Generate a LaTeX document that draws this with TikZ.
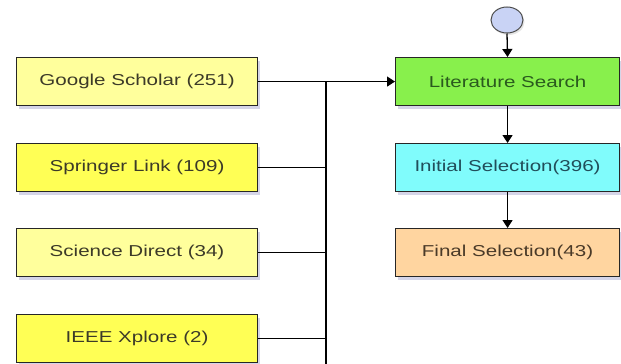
\documentclass[tikz,border=0pt]{standalone}
\usepackage{fontspec}
\setmainfont{Liberation Sans}
\usetikzlibrary{arrows.meta,shadows,positioning,shapes.geometric}
\definecolor{paleyel}{HTML}{FFFF9C}
\definecolor{brightyel}{HTML}{FFFF55}
\definecolor{litgreen}{HTML}{88F04C}
\definecolor{initcyan}{HTML}{80FCFC}
\definecolor{finpeach}{HTML}{FFD5A0}
\definecolor{circfill}{HTML}{C9D3F5}
\definecolor{txtolive}{HTML}{3C3A28}
\definecolor{txtgreen}{HTML}{2A5A1E}
\definecolor{txtteal}{HTML}{214E5A}
\definecolor{txtbrown}{HTML}{4A3A28}
\newcommand{\lbl}[1]{\scalebox{1.3}[1]{\fontsize{15.8}{18}\selectfont #1}}
\tikzset{
  box/.style={draw=black!85, line width=1.1pt, minimum width=241pt, minimum height=48pt,
    inner sep=0pt, anchor=north west,
    drop shadow={shadow xshift=2pt, shadow yshift=-3pt, opacity=0.25, fill=blue!30!gray}},
  rbox/.style={box, minimum width=224pt},
  conn/.style={line width=1.3pt, draw=black},
  arr/.style={conn, -{Triangle[length=8pt,width=10pt]}}
}
\begin{document}
\begin{tikzpicture}[x=1pt,y=-1pt]
\useasboundingbox (0,0) rectangle (621,364);
\fill[white] (0,0) rectangle (621,364);
% left boxes
\node[box, fill=paleyel, text=txtolive] (gs) at (16,57) {\lbl{Google Scholar (251)}};
\node[box, fill=brightyel, text=txtolive] (sl) at (16,143) {\lbl{Springer Link (109)}};
\node[box, fill=paleyel, text=txtolive] (sd) at (16,228) {\lbl{Science Direct (34)}};
\node[box, fill=brightyel, text=txtolive] (ie) at (16,314) {\lbl{IEEE Xplore (2)}};
% right boxes
\node[rbox, fill=litgreen, text=txtgreen] (ls) at (395,57) {\lbl{Literature Search}};
\node[rbox, fill=initcyan, text=txtteal] (is) at (395,143) {\lbl{Initial Selection(396)}};
\node[rbox, fill=finpeach, text=txtbrown] (fs) at (395,228) {\lbl{Final Selection(43)}};
% start ellipse
\node[draw=black!70, line width=1pt, fill=circfill, ellipse, minimum width=32pt, minimum height=26pt, inner sep=0pt,
  drop shadow={shadow xshift=1.5pt, shadow yshift=-2pt, opacity=0.2}] (st) at (507,20) {};
% bus
\coordinate (bt) at (326,81);
\coordinate (bb) at (326,366);
\draw[conn] (bt) -- (bb);
\draw[arr] (gs.east) -- (ls.west);
\draw[conn] (sl.east) -- (sl.east -| bt);
\draw[conn] (sd.east) -- (sd.east -| bt);
\draw[conn] (ie.east) -- (ie.east -| bt);
% vertical flow
\draw[arr] (st.south) -- (ls.north);
\draw[arr] (ls.south) -- (is.north);
\draw[arr] (is.south) -- (fs.north);
\end{tikzpicture}
\end{document}
